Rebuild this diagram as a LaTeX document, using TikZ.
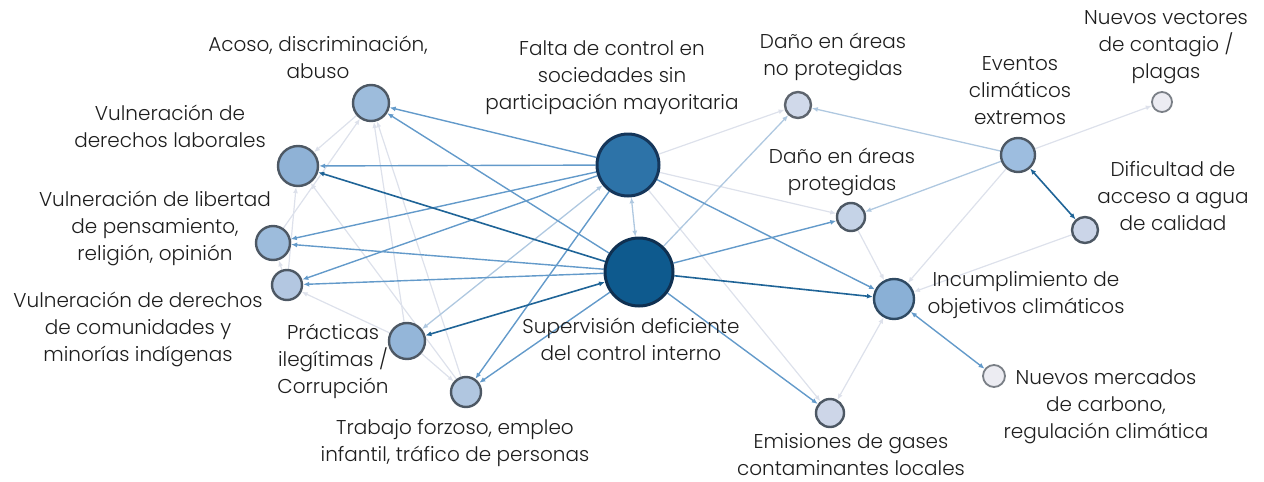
\documentclass[tikz,border=0pt]{standalone}
\usepackage{fontspec}
\setmainfont{Poppins Light}
\usetikzlibrary{arrows.meta,backgrounds}
\definecolor{txt}{HTML}{1E1E1E}
\definecolor{gstroke}{HTML}{4D5864}
\definecolor{eg}{HTML}{DDE1EB}
\definecolor{el}{HTML}{AFC8E0}
\definecolor{em}{HTML}{639ACA}
\definecolor{ed}{HTML}{1F6497}
\definecolor{cA}{HTML}{9DBCDC}
\definecolor{cL}{HTML}{8FB2D6}
\definecolor{cC}{HTML}{B3C7E1}
\definecolor{cPr}{HTML}{94B6D9}
\definecolor{cT}{HTML}{B0C6E0}
\definecolor{cF}{HTML}{2D73A8}
\definecolor{sF}{HTML}{15365A}
\definecolor{cS}{HTML}{0E5A8E}
\definecolor{sS}{HTML}{0F3051}
\definecolor{cDN}{HTML}{D0D9EA}
\definecolor{sDN}{HTML}{5E656E}
\definecolor{cDP}{HTML}{C5D3E7}
\definecolor{cE}{HTML}{9DBDDF}
\definecolor{cNV}{HTML}{ECECF2}
\definecolor{sNV}{HTML}{7A7F86}
\definecolor{cD}{HTML}{CBD5E8}
\definecolor{cI}{HTML}{8AB0D6}
\definecolor{sI}{HTML}{2F4A63}
\definecolor{cEm}{HTML}{CDD6E8}
\tikzset{
  nd/.style={circle,draw=gstroke,line width=2.4pt,inner sep=0pt},
  lbl/.style={align=center,text=txt,font=\fontsize{20}{27}\selectfont,inner sep=0pt},
  tip/.style={-{Latex[length=6pt,width=5pt]}},
  btip/.style={{Latex[length=6pt,width=5pt]}-{Latex[length=6pt,width=5pt]}},
  eG/.style={draw=eg,line width=1.2pt},
  eL/.style={draw=el,line width=1.3pt},
  eM/.style={draw=em,line width=1.4pt},
  eD/.style={draw=ed,line width=1.6pt}
}
\begin{document}
\begin{tikzpicture}[x=1pt,y=-1pt]
\useasboundingbox (0,0) rectangle (1264,482);
% nodes
\node[nd,minimum size=36pt,fill=cA] (A) at (371,103) {};
\node[nd,minimum size=40pt,fill=cL] (L) at (298,166) {};
\node[nd,minimum size=34pt,fill=cA] (P) at (273,243) {};
\node[nd,minimum size=30pt,fill=cC] (C) at (287,285) {};
\node[nd,minimum size=36pt,fill=cPr] (Pr) at (407,341) {};
\node[nd,minimum size=30pt,fill=cT] (T) at (466,392) {};
\node[nd,minimum size=62pt,fill=cF,draw=sF,line width=3pt] (F) at (628,165) {};
\node[nd,minimum size=68pt,fill=cS,draw=sS,line width=3pt] (S) at (639,272) {};
\node[nd,minimum size=26pt,fill=cDN,draw=sDN] (DN) at (798,105) {};
\node[nd,minimum size=28pt,fill=cDP] (DP) at (851,217) {};
\node[nd,minimum size=34pt,fill=cE] (E) at (1018,155) {};
\node[nd,minimum size=20pt,fill=cNV,draw=sNV,line width=1.8pt] (NV) at (1162,102) {};
\node[nd,minimum size=26pt,fill=cD] (D) at (1085,230) {};
\node[nd,minimum size=40pt,fill=cI,draw=sI] (I) at (894,299) {};
\node[nd,minimum size=22pt,fill=cNV,draw=sNV,line width=1.8pt] (NM) at (994,376) {};
\node[nd,minimum size=28pt,fill=cEm] (Em) at (830,413) {};
% labels
\node[lbl] (lA) at (318,57) {Acoso, discriminación,\\abuso};
\node[lbl] (lL) at (170,126) {Vulneración de\\derechos laborales};
\node[lbl] (lP) at (155,228) {Vulneración de libertad\\de pensamiento,\\religión, opinión};
\node[lbl] (lC) at (138,329) {Vulneración de derechos\\de comunidades y\\minorías indígenas};
\node[lbl] (lPr) at (333,361) {Prácticas\\ilegítimas /\\Corrupción};
\node[lbl] (lT) at (455,443) {Trabajo forzoso, empleo\\infantil, tráfico de personas};
\node[lbl] (lF) at (612,78) {Falta de control en\\sociedades sin\\participación mayoritaria};
\node[lbl] (lS) at (631,339) {Supervisión deficiente\\del control interno};
\node[lbl] (lDN) at (833,57) {Daño en áreas\\no protegidas};
\node[lbl] (lDP) at (842,172) {Daño en áreas\\protegidas};
\node[lbl] (lE) at (1020,91) {Eventos\\climáticos\\extremos};
\node[lbl] (lNV) at (1166,47) {Nuevos vectores\\de contagio /\\plagas};
\node[lbl] (lD) at (1173,196) {Dificultad de\\acceso a agua\\de calidad};
\node[lbl] (lI) at (1026,295) {Incumplimiento de\\objetivos climáticos};
\node[lbl] (lNM) at (1106,407) {Nuevos mercados\\de carbono,\\regulación climática};
\node[lbl] (lEm) at (851,455) {Emisiones de gases\\contaminantes locales};
% edges
\begin{scope}[on background layer]
% light grey
\draw[eG,tip] (F) -- (DN);
\draw[eG,tip] (F) -- (DP);
\draw[eG,tip] (F) -- (Em);
\draw[eG,tip] (E) -- (NV);
\draw[eG,tip] (E) -- (I);
\draw[eG,tip] (D) -- (I);
\draw[eG,tip] (DP) -- (I);
\draw[eG,btip] (Em) -- (I);
\draw[eG,tip] (A) -- (L);
\draw[eG,tip] (P) -- (A);
\draw[eG,tip] (C) -- (L);
\draw[eG,tip] (C) -- (P);
\draw[eG,tip] (Pr) -- (A);
\draw[eG,tip] (T) -- (L);
\draw[eG,tip] (Pr) -- (C);
\draw[eG,tip] (Pr) -- (T);
\draw[eG,tip] (T) -- (A);
% light blue
\draw[eL,btip] (F) -- (S);
\draw[eL,btip] (F) -- (Pr);
\draw[eL,tip] (E) -- (DN);
\draw[eL,tip] (E) -- (DP);
\draw[eL,tip] (S) -- (DN);
% medium
\draw[eM,tip] (F) -- (A);
\draw[eM,tip] (F) -- (L);
\draw[eM,tip] (F) -- (P);
\draw[eM,tip] (F) -- (C);
\draw[eM,tip] (F) -- (T);
\draw[eM,tip] (F) -- (I);
\draw[eM,tip] (S) -- (A);
\draw[eM,tip] (S) -- (P);
\draw[eM,tip] (S) -- (C);
\draw[eM,tip] (S) -- (T);
\draw[eM,tip] (S) -- (DP);
\draw[eM,tip] (S) -- (Em);
\draw[eM,btip] (I) -- (NM);
% dark
\draw[eD,tip] (S) -- (L);
\draw[eD,btip] (S) -- (Pr);
\draw[eD,tip] (S) -- (I);
\draw[eD,btip] (E) -- (D);
\end{scope}
\end{tikzpicture}
\end{document}
